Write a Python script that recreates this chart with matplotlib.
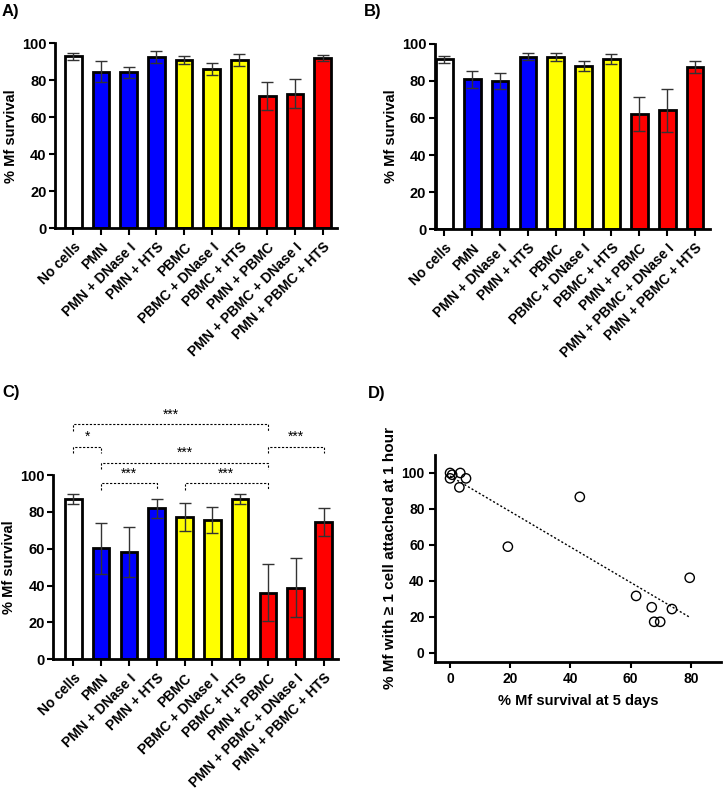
import numpy as np
import matplotlib
matplotlib.use("Agg")
import matplotlib.pyplot as plt

plt.rcParams['font.family'] = ['Liberation Sans', 'DejaVu Sans']
plt.rcParams['font.weight'] = 'bold'

# categorias y colores
categorias = ["No cells", "PMN", "PMN + DNase I", "PMN + HTS", "PBMC",
              "PBMC + DNase I", "PBMC + HTS", "PMN + PBMC",
              "PMN + PBMC + DNase I", "PMN + PBMC + HTS"]
colores = ["white", "#0000ff", "#0000ff", "#0000ff", "#ffff00", "#ffff00",
           "#ffff00", "#ff0000", "#ff0000", "#ff0000"]

# panel A
valores_a = [93.1, 84.7, 84.3, 92.6, 91.1, 86.1, 91.0, 71.5, 72.8, 92.2]
error_a = [1.9, 5.7, 3.1, 3.4, 2.2, 3.4, 3.2, 7.7, 7.9, 1.6]

# panel B
valores_b = [91.5, 80.8, 79.9, 92.9, 92.9, 88.1, 91.5, 62.1, 64.2, 87.6]
error_b = [2.0, 4.6, 4.3, 1.9, 2.2, 2.7, 2.7, 9.3, 11.6, 3.3]

# panel C
valores_c = [87.0, 60.2, 58.0, 82.0, 77.4, 75.6, 87.0, 36.1, 38.9, 74.5]
error_c = [2.9, 13.9, 13.6, 5.1, 7.6, 7.0, 2.5, 15.4, 15.9, 7.4]
# comparaciones: (barra inicio, barra fin, texto)
comparaciones = [(0, 7, "***"), (0, 1, "*"), (7, 9, "***"),
                 (1, 7, "***"), (1, 3, "***"), (4, 7, "***")]
alturas = [127.5, 115.4, 115.4, 106.5, 95.5, 95.5]

# panel D
supervivencia = [0, 0, 0.7, 3.4, 5.3, 3.1, 19.2, 43.1, 61.8, 67.0, 67.8,
                 69.8, 73.7, 79.6]
adheridos = [100, 97, 99, 100, 97, 92, 59, 86.7, 31.6, 25.3, 17.2, 17.2,
             24.3, 41.7]

W, H = 723, 792
fig = plt.figure(figsize=(W / 100, H / 100), dpi=100)


def caja(izq, der, arriba, abajo):
    return [izq / W, 1 - abajo / H, (der - izq) / W, (abajo - arriba) / H]


def barras(ax, valores, errores, xlim):
    x = np.arange(len(categorias))
    ax.bar(x, valores, width=0.6, color=colores, edgecolor="black",
           linewidth=2, zorder=2)
    ax.errorbar(x, valores, yerr=errores, fmt="none", ecolor="#333333",
                elinewidth=1, capsize=4, capthick=1, zorder=3)
    ax.set_xlim(*xlim)
    ax.set_ylim(0, 100)
    ax.set_yticks([0, 20, 40, 60, 80, 100])
    ax.set_xticks(x)
    ax.set_xticklabels(categorias, rotation=45, ha="right",
                       rotation_mode="anchor", fontsize=10, fontweight="bold")
    ax.tick_params(axis="y", labelsize=10.5, width=1.5, length=4, pad=2)
    ax.tick_params(axis="x", width=1.5, length=5)
    for lado in ["top", "right"]:
        ax.spines[lado].set_visible(False)
    for lado in ["left", "bottom"]:
        ax.spines[lado].set_linewidth(2)
    ax.set_ylabel("% Mf survival", fontsize=10.5, fontweight="bold",
                  labelpad=3)


ax_a = fig.add_axes(caja(55, 337, 43.3, 228.3))
barras(ax_a, valores_a, error_a, (-0.66, 9.52))

ax_b = fig.add_axes(caja(434.7, 710.3, 43.7, 229.3))
barras(ax_b, valores_b, error_b, (-0.35, 9.55))

ax_c = fig.add_axes(caja(53.3, 338.3, 475, 659.3))
barras(ax_c, valores_c, error_c, (-0.72, 9.53))

# corchetes de significancia
for (i, j, txt), h in zip(comparaciones, alturas):
    ax_c.plot([i, i, j, j], [h - 3.5, h, h, h - 3.5], color="black",
              linestyle=(0, (2, 1.5)), linewidth=0.8, clip_on=False)
    ax_c.text((i + j) / 2, h + 1.5, txt, ha="center", va="bottom",
              fontsize=10, fontweight="normal")

# panel D
ax_d = fig.add_axes(caja(435, 721, 455, 661.7))
ax_d.scatter(supervivencia, adheridos, s=45, facecolors="none",
             edgecolors="black", linewidths=1, zorder=3)
m, b = np.polyfit(supervivencia, adheridos, 1)
xs = np.array([min(supervivencia), max(supervivencia)])
ax_d.plot(xs, m * xs + b, color="black", linestyle=(0, (1.5, 1.5)),
          linewidth=1)
ax_d.set_xlim(-5, 90)
ax_d.set_ylim(-5, 110)
ax_d.set_xticks([0, 20, 40, 60, 80])
ax_d.set_yticks([0, 20, 40, 60, 80, 100])
ax_d.tick_params(labelsize=10, width=1.5, length=4)
for lado in ["top", "right"]:
    ax_d.spines[lado].set_visible(False)
for lado in ["left", "bottom"]:
    ax_d.spines[lado].set_linewidth(2)
ax_d.set_xlabel("% Mf survival at 5 days", fontsize=10.5, fontweight="bold",
                labelpad=6)
ax_d.set_ylabel("% Mf with \u2265 1 cell attached at 1 hour", fontsize=11,
                fontweight="bold", labelpad=3)

# letras de panel
for txt, x, y in [("A)", 2, 4), ("B)", 364, 4), ("C)", 2, 385), ("D)", 368, 386)]:
    fig.text(x / W, 1 - y / H, txt, fontsize=12, fontweight="bold",
             ha="left", va="top")

fig.savefig("out.png", dpi=100)
